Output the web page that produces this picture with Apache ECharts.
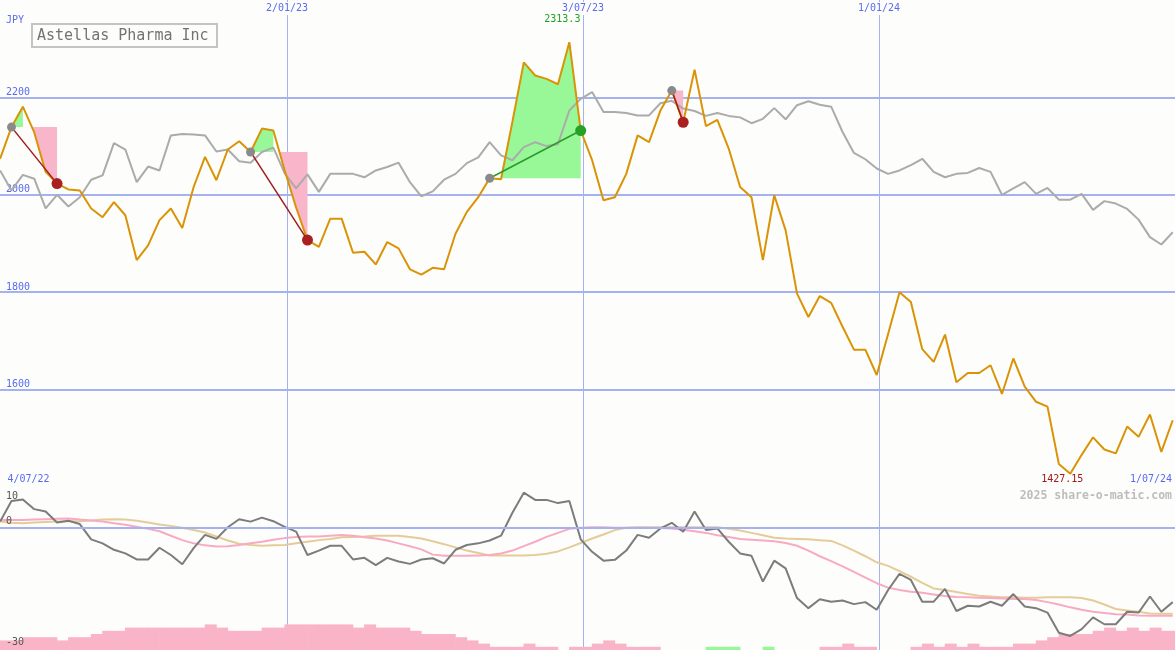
<!DOCTYPE html>
<html>
<head>
<meta charset="utf-8">
<title>Astellas Pharma Inc</title>
<script src="https://cdn.jsdelivr.net/npm/echarts@6.0.0/dist/echarts.min.js"></script>
<style>
html,body{margin:0;padding:0;background:#fdfefb;}
#chart{width:1175px;height:650px;}
</style>
</head>
<body>
<div id="chart"></div>
<script>
// ---------------- data ----------------
// x positions are weeks since 4/07/22; first weekly point sits 0.8 weeks in
const FIRST_WEEK = 0.8;
const tickWeeks  = [0, 26, 52, 78, 104];
const tickLabels = ['4/07/22', '2/01/23', '3/07/23', '1/01/24', '1/07/24'];
const priceTicks = [1600, 1800, 2000, 2200];
const lowerTicks = [10, 0, -30];

// Astellas weekly close (JPY)
const price = [2074,2139,2181,2128,2047,2023,2011,2009,1972,1954,
  1985,1958,1866,1896,1948,1972,1932,2016,2078,2030,
  2093,2110,2088,2136,2132,2050,1974,1907,1893,1951,
  1951,1881,1883,1857,1903,1890,1847,1836,1850,1847,
  1920,1965,1995,2034,2032,2150,2272,2245,2238,2227,
  2313.3,2132,2071,1989,1995,2043,2122,2108,2173,2214,
  2149,2257,2141,2154,2095,2016,1995,1866,1999,1927,
  1797,1749,1792,1778,1729,1682,1682,1630,1714,1800,
  1780,1683,1657,1713,1615,1634,1634,1650,1591,1664,
  1606,1575,1565,1447,1427.15,1466,1502,1477,1469,1524,
  1503,1549,1472,1537];

// comparison index (rebased, grey)
const indexLine = [2050,2009,2041,2033,1972,2000,1976,1995,2031,2040,
  2106,2093,2026,2058,2050,2122,2125,2124,2122,2089,
  2093,2069,2066,2088,2097,2044,2013,2042,2006,2043,
  2043,2043,2036,2050,2057,2066,2026,1997,2007,2031,
  2043,2065,2077,2108,2081,2071,2098,2108,2100,2104,
  2173,2197,2211,2170,2170,2168,2163,2163,2188,2193,
  2177,2172,2162,2168,2162,2159,2147,2156,2178,2155,
  2184,2192,2185,2181,2129,2086,2073,2054,2043,2050,
  2061,2074,2047,2036,2043,2045,2055,2047,2000,2013,
  2026,2002,2014,1990,1990,2002,1969,1987,1982,1971,
  1949,1913,1898,1923];

// lower panel: relative performance (%)
const relative = [1.4,6.5,6.9,4.5,3.9,1.2,1.6,0.8,-3.0,-4.0,
  -5.6,-6.5,-8.0,-8.0,-5.1,-6.9,-9.2,-5.2,-1.9,-2.9,
  0.0,2.0,1.4,2.4,1.5,0.1,-1.1,-6.9,-5.8,-4.6,
  -4.6,-8.0,-7.6,-9.4,-7.6,-8.5,-9.1,-8.0,-7.7,-9.0,
  -5.6,-4.4,-4.0,-3.3,-2.1,3.6,8.6,6.8,6.8,6.0,
  6.5,-3.0,-6.1,-8.3,-8.1,-5.8,-1.9,-2.6,-0.3,1.1,
  -1.1,3.9,-0.7,-0.3,-3.6,-6.5,-7.1,-13.5,-8.3,-10.2,
  -17.6,-20.1,-17.9,-18.5,-18.2,-19.1,-18.6,-20.5,-15.6,-11.6,
  -13.1,-18.5,-18.5,-15.3,-20.8,-19.5,-19.7,-18.5,-19.5,-16.6,
  -19.7,-20.1,-21.2,-26.2,-27.0,-25.3,-22.4,-24.1,-24.1,-21.0,
  -21.2,-17.2,-21.0,-18.6];

const relFast = [1.8,1.8,1.8,1.9,2.0,2.1,2.2,1.9,1.7,1.4,
  1.0,0.6,0.1,-0.4,-1.0,-2.1,-3.2,-4.0,-4.5,-4.8,
  -4.7,-4.4,-4.0,-3.6,-3.1,-2.7,-2.4,-2.3,-2.3,-2.1,
  -1.9,-2.1,-2.5,-2.8,-3.3,-4.0,-4.7,-5.5,-6.8,-7.1,
  -7.1,-7.1,-7.0,-6.9,-6.5,-5.8,-4.7,-3.6,-2.4,-1.4,
  -0.4,-0.1,0.0,0.0,-0.1,-0.1,-0.1,-0.1,-0.2,-0.3,
  -0.6,-1.0,-1.4,-2.0,-2.4,-2.9,-3.1,-3.3,-3.5,-3.9,
  -4.6,-5.8,-7.2,-8.4,-9.7,-11.1,-12.5,-13.9,-15.0,-15.6,
  -16.0,-16.3,-16.7,-17.1,-17.3,-17.4,-17.5,-17.6,-17.7,-17.8,
  -17.8,-18.1,-18.6,-19.2,-19.9,-20.5,-21.0,-21.3,-21.6,-21.7,
  -21.9,-22.0,-22.0,-22.0];

const relSlow = [1.4,1.1,1.0,1.2,1.3,1.4,1.5,1.5,1.7,1.9,
  2.0,1.9,1.6,1.2,0.7,0.3,-0.1,-0.7,-1.3,-2.3,
  -3.3,-4.1,-4.4,-4.6,-4.5,-4.4,-4.0,-3.6,-3.2,-2.9,
  -2.5,-2.4,-2.3,-2.1,-2.1,-2.1,-2.4,-2.8,-3.5,-4.2,
  -5.0,-5.8,-6.4,-7.0,-7.0,-7.0,-7.0,-6.9,-6.6,-6.0,
  -5.0,-3.9,-2.8,-1.8,-0.7,-0.1,0.0,0.0,0.0,0.0,
  0.0,0.0,0.0,0.0,-0.4,-0.8,-1.4,-2.0,-2.6,-2.8,
  -2.9,-3.0,-3.2,-3.4,-4.5,-5.8,-7.2,-8.7,-9.6,-10.9,
  -12.3,-13.8,-15.2,-15.6,-16.1,-16.6,-17.0,-17.2,-17.4,-17.4,
  -17.5,-17.5,-17.4,-17.4,-17.4,-17.6,-18.2,-19.2,-20.3,-20.7,
  -21.0,-21.4,-21.5,-21.5];

const histPink = [3,3,4,4,4,3,4,4,5,6,
  6,7,7,7,7,7,7,7,8,7,
  6,6,6,7,7,8,8,8,8,8,
  8,7,8,7,7,7,6,5,5,5,
  4,3,2,1,1,1,2,1,1,0,
  1,1,2,3,2,1,1,1,0,0,
  0,0,0,0,0,0,0,0,0,0,
  0,0,1,1,2,1,1,0,0,0,
  1,2,1,2,1,2,1,1,1,2,
  2,3,4,5,5,5,6,7,6,7,
  6,7,6,6];
const histGreen = [0,0,0,0,0,0,0,0,0,0,
  0,0,0,0,0,0,0,0,0,0,
  0,0,0,0,0,0,0,0,0,0,
  0,0,0,0,0,0,0,0,0,0,
  0,0,0,0,0,0,0,0,0,0,
  0,0,0,0,0,0,0,0,0,0,
  0,0,1,1,1,0,0,1,0,0,
  0,0,0,0,0,0,0,0,0,0,
  0,0,0,0,0,0,0,0,0,0,
  0,0,0,0,0,0,0,0,0,0,
  0,0,0,0];

// highlighted moves: start index, end index, bullish?
const patterns = [
  {s: 1,  e: 5,  bull: false},
  {s: 22, e: 27, bull: false},
  {s: 43, e: 51, bull: true},
  {s: 59, e: 60, bull: false}
];

// ---------------- styling ----------------
const FONT = '"DejaVu Sans Mono","Liberation Mono",monospace';
const BG = '#fdfefb';
const BLUE = '#5a6af0';
const GRIDC = '#a4b2f2';
const SEP = '#7282e8';
const ORANGE = '#da9306';
const GREEN_FILL = '#98f898';
const PINK_FILL = '#f9b6ca';
const GRID_LEFT = -9;

const xs = price.map((_, i) => FIRST_WEEK + i);
const pts = arr => arr.map((v, i) => [xs[i], v]);

function fillRuns(s, e) {
  const base = price[s];
  const runs = [];
  let cur = null;
  for (let k = s; k < e; k++) {
    const x0 = xs[k], y0 = price[k], x1 = xs[k + 1], y1 = price[k + 1];
    const up = y1 >= base;
    let start = [x0, y0];
    if ((y0 - base) * (y1 - base) < 0) {
      const t = (base - y0) / (y1 - y0);
      start = [x0 + t * (x1 - x0), base];
      cur = null;
    }
    if (!cur || cur.up !== up) {
      cur = {up: up, pts: [[start[0], base], start]};
      runs.push(cur);
    }
    cur.pts.push([x1, y1]);
  }
  runs.forEach(r => r.pts.push([r.pts[r.pts.length - 1][0], base]));
  return runs;
}

const xBase = {type: 'value', min: tickWeeks[0], max: tickWeeks[tickWeeks.length - 1], interval: 26};

const chart = echarts.init(document.getElementById('chart'), null, {renderer: 'canvas'});

const option = {
  backgroundColor: BG,
  animation: false,
  title: {
    text: 'Astellas Pharma Inc', left: 32, top: 24,
    padding: [3, 9, 2, 5], borderWidth: 2, borderColor: '#c4c4c4',
    textStyle: {fontFamily: FONT, fontSize: 15, fontWeight: 'normal', color: '#737373', lineHeight: 18}
  },
  grid: [
    {left: GRID_LEFT, right: 0, top: 0, height: 487, outerBoundsMode: 'none', containLabel: false},
    {left: GRID_LEFT, right: 0, top: 487, height: 161, outerBoundsMode: 'none', containLabel: false},
    {left: GRID_LEFT, right: 0, top: 618, height: 32, outerBoundsMode: 'none', containLabel: false}
  ],
  xAxis: [
    Object.assign({}, xBase, {
      gridIndex: 0, position: 'top',
      axisLine: {show: false}, axisTick: {show: false},
      splitLine: {show: true, lineStyle: {color: GRIDC, width: 1}},
      axisLabel: {
        inside: true, margin: 2, color: BLUE, fontSize: 10, fontFamily: FONT,
        backgroundColor: BG, padding: [1, 2, 2, 2],
        formatter: v => {
          const i = tickWeeks.indexOf(v);
          return (i > 0 && i < tickWeeks.length - 1) ? tickLabels[i] : '';
        }
      }
    }),
    Object.assign({}, xBase, {
      gridIndex: 0, position: 'bottom',
      axisLine: {show: false}, axisTick: {show: false}, splitLine: {show: false},
      axisLabel: {
        inside: true, margin: 3, showMinLabel: true, showMaxLabel: true,
        color: BLUE, fontSize: 10, fontFamily: FONT,
        formatter: v => v === tickWeeks[0] ? '{l|' + tickLabels[0] + '}'
          : (v === tickWeeks[tickWeeks.length - 1] ? '{r|' + tickLabels[tickLabels.length - 1] + '}' : ''),
        rich: {
          l: {padding: [0, 0, 0, 75], color: BLUE, fontSize: 10, fontFamily: FONT},
          r: {padding: [0, 48, 0, 0], color: BLUE, fontSize: 10, fontFamily: FONT}
        }
      }
    }),
    Object.assign({}, xBase, {
      gridIndex: 1, position: 'top',
      axisLine: {show: true, lineStyle: {color: SEP, width: 2}},
      axisTick: {show: false}, axisLabel: {show: false},
      splitLine: {show: true, lineStyle: {color: GRIDC, width: 1}}
    }),
    Object.assign({}, xBase, {
      gridIndex: 2, position: 'bottom',
      axisLine: {show: false}, axisTick: {show: false}, axisLabel: {show: false},
      splitLine: {show: true, lineStyle: {color: GRIDC, width: 1}}
    })
  ],
  yAxis: [
    {
      gridIndex: 0, type: 'value', min: 1400, max: 2400, interval: 200,
      axisLine: {show: false}, axisTick: {show: false},
      splitLine: {show: true, showMinLine: false, showMaxLine: false, lineStyle: {color: GRIDC, width: 2}},
      axisLabel: {
        inside: true, margin: 15, verticalAlign: 'bottom', color: BLUE, fontSize: 10, fontFamily: FONT,
        formatter: v => priceTicks.indexOf(v) >= 0 ? String(v) : ''
      }
    },
    {
      gridIndex: 1, type: 'value', min: -30, max: 10, interval: 10, z: 10,
      axisLine: {show: false}, axisTick: {show: false}, splitLine: {show: false},
      axisLabel: {
        inside: true, margin: 15, verticalAlign: 'middle', showMinLabel: true, showMaxLabel: true,
        color: '#555', fontSize: 10, fontFamily: FONT,
        formatter: v => v === lowerTicks[0] ? '{t|' + v + '}' : (lowerTicks.indexOf(v) >= 0 ? '{b|' + v + '}' : ''),
        rich: {
          t: {padding: [18, 0, 0, 0], color: '#555', fontSize: 10, fontFamily: FONT},
          b: {padding: [0, 0, 12, 0], color: '#555', fontSize: 10, fontFamily: FONT}
        }
      }
    },
    {gridIndex: 2, type: 'value', min: 0, max: 10, show: false}
  ],
  graphic: [
    {type: 'text', left: 6, top: 15, silent: true,
     style: {text: 'JPY', fill: BLUE, font: '10px ' + FONT}},
    {type: 'text', right: 3, top: 490, silent: true,
     style: {text: '2025 share-o-matic.com', fill: '#bdbdbd', font: 'bold 11.5px ' + FONT}}
  ],
  series: [
    {
      type: 'custom', xAxisIndex: 0, yAxisIndex: 0, z: 1, silent: true, clip: true,
      data: patterns.map(p => [xs[p.s], price[p.s], xs[p.e], price[p.e]]),
      encode: {x: [0, 2], y: [1, 3]},
      renderItem: (params, api) => {
        const p = patterns[params.dataIndex];
        return {
          type: 'group',
          children: fillRuns(p.s, p.e).map(r => ({
            type: 'polygon',
            shape: {points: r.pts.map(q => api.coord(q))},
            style: {fill: r.up ? GREEN_FILL : PINK_FILL}
          }))
        };
      }
    },
    {
      type: 'line', xAxisIndex: 0, yAxisIndex: 0, z: 2, silent: true,
      data: pts(indexLine), showSymbol: false,
      lineStyle: {color: '#ababab', width: 2}
    },
    {
      type: 'line', xAxisIndex: 0, yAxisIndex: 0, z: 3, silent: true,
      data: pts(price), showSymbol: false,
      lineStyle: {color: ORANGE, width: 2},
      markPoint: {
        symbol: 'circle', symbolSize: 1, silent: true,
        itemStyle: {color: 'rgba(0,0,0,0)'},
        label: {show: true, position: 'inside', fontSize: 10, fontFamily: FONT},
        data: [
          {type: 'max', valueDim: 'y', label: {color: '#22a022', offset: [-7, -22.5]}},
          {type: 'min', valueDim: 'y', label: {color: '#a01818', offset: [-8, 5.5]}}
        ]
      }
    }
  ].concat(patterns.map(p => ({
    type: 'line', xAxisIndex: 0, yAxisIndex: 0, z: 5, silent: true,
    symbol: 'circle', showSymbol: true,
    lineStyle: {color: p.bull ? '#2a9a2a' : '#a01c1c', width: 1.5},
    data: [
      {value: [xs[p.s], price[p.s]], symbolSize: 9, itemStyle: {color: '#8a8a8a'}},
      {value: [xs[p.e], price[p.e]], symbolSize: 11, itemStyle: {color: p.bull ? '#26a026' : '#aa2020'}}
    ]
  }))).concat([
    {
      type: 'bar', xAxisIndex: 3, yAxisIndex: 2, z: 1, silent: true, barWidth: 12,
      data: xs.map((x, i) => histPink[i] ? {value: [x + 0.5, histPink[i]], itemStyle: {color: '#f9b4c8'}}
        : (histGreen[i] ? {value: [x + 0.5, histGreen[i]], itemStyle: {color: '#98f898'}} : null))
        .filter(d => d)
    },
    {
      type: 'line', xAxisIndex: 2, yAxisIndex: 1, z: 2, silent: true,
      data: pts(relSlow), showSymbol: false,
      lineStyle: {color: '#e4cc9a', width: 2},
      markLine: {
        silent: true, symbol: ['none', 'none'], label: {show: false},
        lineStyle: {color: GRIDC, width: 2, type: 'solid'},
        data: [{yAxis: 0}]
      }
    },
    {
      type: 'line', xAxisIndex: 2, yAxisIndex: 1, z: 3, silent: true,
      data: pts(relFast), showSymbol: false,
      lineStyle: {color: '#f8aac2', width: 2}
    },
    {
      type: 'line', xAxisIndex: 2, yAxisIndex: 1, z: 4, silent: true,
      data: pts(relative), showSymbol: false,
      lineStyle: {color: '#7c7c7c', width: 2}
    }
  ])
};

chart.setOption(option);
</script>
</body>
</html>
